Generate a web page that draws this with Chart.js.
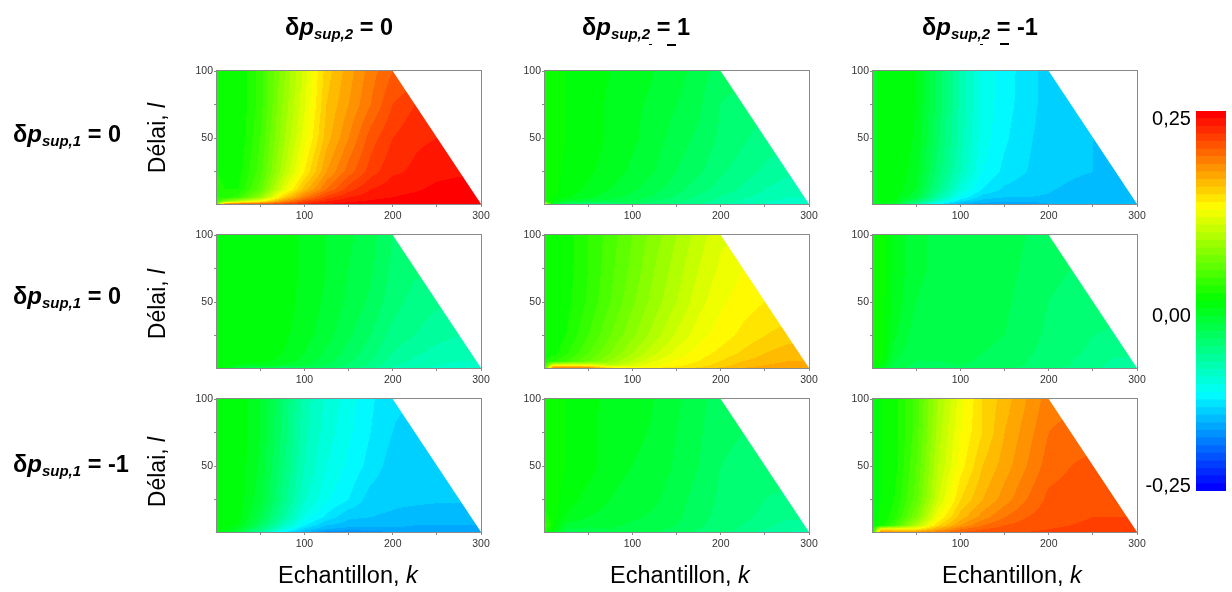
<!DOCTYPE html>
<html>
<head>
<meta charset="utf-8">
<script src="https://cdn.jsdelivr.net/npm/chart.js@4"></script>
<style>
html, body { margin: 0; padding: 0; background: #fff; }
#page { position: relative; width: 1232px; height: 592px; overflow: hidden; font-family: "Liberation Sans", Arial, sans-serif; color: #000; filter: blur(0.4px); }
canvas { position: absolute; }
.head { position: absolute; font-weight: bold; font-size: 23.5px; line-height: 24px; white-space: nowrap; }
.head i { font-size: 24px; }
.head sub { font-size: 15px; font-style: italic; line-height: 0; vertical-align: -4px; }
.xname { position: absolute; font-size: 23.5px; line-height: 28px; white-space: nowrap; top: 561px; }
.yname { position: absolute; font-size: 23px; line-height: 26px; white-space: nowrap; left: 157px; transform: translate(-50%, -50%) rotate(-90deg); }
.cbar { position: absolute; font-size: 20px; line-height: 24px; right: 41px; }
.speck { position: absolute; background: #000; }
</style>
</head>
<body>
<div id="page"></div>
<script>
// sample points of the grids (delay rows go top to bottom like the picture)
const sampleK = [1, 10, 25, 50, 75, 100, 125, 150, 175, 200, 225, 250, 275, 300];
const sampleL = [100, 75, 50, 25, 12, 6, 3, 1];

const maskK = [200, 300, 300];
const maskL = [100, 100, 1];

const xTicks = [50, 100, 150, 200, 250, 300];
const yTicks = [25, 50, 75, 100];

const colorLevels = [-0.25, -0.24, -0.23, -0.22, -0.21, -0.2, -0.19, -0.18, -0.17, -0.16, -0.15, -0.14, -0.13, -0.12, -0.11, -0.1, -0.09, -0.08, -0.07, -0.06, -0.05, -0.04, -0.03, -0.02, -0.01, 0, 0.01, 0.02, 0.03, 0.04, 0.05, 0.06, 0.07, 0.08, 0.09, 0.1, 0.11, 0.12, 0.13, 0.14, 0.15, 0.16, 0.17, 0.18, 0.19, 0.2, 0.21, 0.22, 0.23, 0.24, 0.25];

const grid00 = [
  [.01, .005, 0, .025, .065, .105, .145, .165, .185, .2],
  [.01, .005, 0, .025, .07, .108, .15, .17, .19, .21, .22],
  [.01, .005, 0, .03, .075, .115, .155, .18, .205, .22, .228, .23],
  [.01, .005, .005, .035, .085, .13, .17, .195, .215, .228, .232, .236, .238],
  [.015, .01, .01, .045, .105, .155, .19, .215, .23, .236, .238, .243, .245],
  [.02, .015, .025, .07, .14, .185, .215, .23, .236, .24, .243, .248, .25, .25],
  [.03, .06, .09, .125, .175, .21, .23, .238, .242, .245, .25, .25, .25, .25],
  [.04, .19, .2, .205, .215, .23, .24, .245, .25, .25, .25, .25, .25, .25]
];
const grid01 = [
  [.005, .003, 0, -.005, -.01, -.015, -.02, -.025, -.035, -.045],
  [.005, .003, 0, -.005, -.012, -.018, -.022, -.03, -.038, -.05, -.055],
  [.005, .003, 0, -.005, -.012, -.018, -.025, -.035, -.042, -.052, -.058, -.065],
  [.005, .003, -.002, -.008, -.015, -.022, -.03, -.04, -.048, -.058, -.065, -.072, -.078],
  [.005, .003, -.004, -.012, -.02, -.028, -.036, -.046, -.056, -.064, -.072, -.08, -.085],
  [.005, .002, -.008, -.018, -.026, -.034, -.042, -.052, -.062, -.07, -.078, -.085, -.09, -.09],
  [.01, -.004, -.02, -.03, -.034, -.04, -.05, -.058, -.066, -.074, -.082, -.09, -.092, -.092],
  [.12, -.02, -.05, -.06, -.055, -.05, -.055, -.062, -.07, -.078, -.085, -.09, -.092, -.095]
];
const grid02 = [
  [-.015, -.005, 0, -.01, -.045, -.083, -.113, -.125, -.135, -.145],
  [-.015, -.005, 0, -.01, -.045, -.083, -.113, -.126, -.135, -.145, -.147],
  [-.015, -.005, 0, -.012, -.048, -.085, -.115, -.128, -.138, -.145, -.148, -.15],
  [-.015, -.005, -.002, -.015, -.055, -.09, -.12, -.133, -.14, -.145, -.148, -.15, -.152],
  [-.015, -.005, -.003, -.02, -.065, -.105, -.13, -.142, -.146, -.149, -.152, -.155, -.155],
  [-.015, -.005, -.005, -.03, -.08, -.12, -.145, -.15, -.15, -.151, -.155, -.155, -.155, -.155],
  [-.015, -.006, -.01, -.05, -.1, -.14, -.155, -.158, -.158, -.158, -.158, -.158, -.158, -.158],
  [-.015, -.01, -.02, -.07, -.125, -.16, -.165, -.165, -.165, -.16, -.16, -.16, -.16, -.16]
];
const grid10 = [
  [-.006, -.005, -.003, -.002, -.006, -.012, -.02, -.028, -.036, -.05],
  [-.006, -.005, -.003, -.001, -.006, -.012, -.02, -.03, -.038, -.052, -.058],
  [-.006, -.005, -.002, 0, -.005, -.013, -.022, -.032, -.042, -.056, -.064, -.068],
  [-.006, -.004, -.002, 0, -.007, -.016, -.026, -.038, -.05, -.064, -.07, -.076, -.08],
  [-.005, -.004, -.002, -.002, -.01, -.02, -.032, -.044, -.056, -.07, -.078, -.084, -.088],
  [-.004, -.003, -.004, -.006, -.014, -.024, -.036, -.048, -.06, -.074, -.082, -.088, -.09, -.09],
  [-.004, -.004, -.012, -.015, -.02, -.03, -.04, -.052, -.064, -.078, -.086, -.09, -.092, -.092],
  [-.004, -.006, -.03, -.04, -.045, -.045, -.048, -.056, -.068, -.082, -.088, -.092, -.094, -.095]
];
const grid11 = [
  [0, 0, .005, .02, .035, .05, .065, .08, .095, .108],
  [0, 0, .005, .02, .037, .053, .07, .085, .1, .112, .12],
  [0, 0, .006, .022, .04, .058, .075, .09, .106, .118, .125, .13],
  [0, .002, .01, .03, .05, .068, .085, .102, .116, .125, .133, .14, .145],
  [.005, .005, .018, .04, .06, .08, .098, .114, .125, .133, .142, .15, .155],
  [.01, .02, .03, .05, .072, .092, .11, .122, .13, .14, .15, .155, .16, .16],
  [.02, .12, .125, .12, .09, .105, .118, .127, .135, .145, .155, .16, .165, .165],
  [.03, .19, .19, .185, .14, .125, .13, .135, .142, .152, .16, .165, .168, .17]
];
const grid12 = [
  [0, .005, -.012, -.028, -.032, -.032, -.032, -.036, -.04, -.045],
  [0, .005, -.012, -.028, -.032, -.032, -.032, -.036, -.042, -.048, -.05],
  [0, .005, -.014, -.03, -.034, -.032, -.034, -.038, -.044, -.05, -.052, -.055],
  [0, .005, -.018, -.036, -.036, -.034, -.036, -.04, -.046, -.052, -.056, -.06, -.062],
  [0, .004, -.024, -.04, -.038, -.036, -.04, -.044, -.048, -.054, -.058, -.062, -.068],
  [0, .002, -.03, -.04, -.04, -.038, -.042, -.046, -.05, -.056, -.06, -.064, -.072, -.072],
  [0, -.008, -.034, -.042, -.042, -.04, -.044, -.046, -.05, -.056, -.06, -.065, -.075, -.075],
  [0, -.015, -.036, -.044, -.044, -.042, -.046, -.048, -.052, -.058, -.062, -.066, -.078, -.08]
];
const grid20 = [
  [-.005, -.004, -.002, -.02, -.05, -.085, -.102, -.115, -.128, -.138],
  [-.005, -.004, -.002, -.02, -.052, -.087, -.105, -.118, -.13, -.14, -.146],
  [-.005, -.004, -.003, -.022, -.056, -.09, -.11, -.122, -.134, -.145, -.147, -.147],
  [-.005, -.004, -.004, -.026, -.062, -.098, -.118, -.13, -.145, -.147, -.147, -.148, -.148],
  [-.005, -.004, -.006, -.035, -.075, -.112, -.133, -.148, -.15, -.152, -.156, -.158, -.158],
  [-.005, -.005, -.01, -.045, -.09, -.128, -.15, -.155, -.157, -.158, -.16, -.16, -.16, -.16],
  [-.005, -.006, -.02, -.06, -.105, -.145, -.16, -.165, -.165, -.162, -.162, -.162, -.162, -.162],
  [-.01, -.012, -.03, -.075, -.125, -.155, -.175, -.178, -.175, -.168, -.165, -.165, -.165, -.165]
];
const grid21 = [
  [.004, .003, 0, -.008, -.012, -.016, -.02, -.028, -.036, -.046],
  [.004, .003, 0, -.007, -.014, -.018, -.021, -.03, -.038, -.048, -.05],
  [.005, .004, 0, -.006, -.016, -.02, -.023, -.032, -.04, -.05, -.052, -.056],
  [.006, .004, -.004, -.014, -.02, -.024, -.028, -.036, -.044, -.052, -.056, -.06, -.062],
  [.012, .005, -.012, -.02, -.024, -.028, -.032, -.038, -.046, -.054, -.058, -.062, -.068],
  [.025, .004, -.024, -.028, -.028, -.032, -.036, -.04, -.048, -.056, -.06, -.066, -.074, -.074],
  [.02, -.002, -.03, -.032, -.03, -.034, -.038, -.042, -.05, -.056, -.062, -.07, -.078, -.078],
  [.005, -.005, -.032, -.034, -.032, -.036, -.04, -.044, -.052, -.058, -.064, -.074, -.08, -.082]
];
const grid22 = [
  [-.005, 0, .005, .035, .08, .115, .14, .155, .17, .185],
  [-.005, 0, .005, .035, .085, .12, .14, .16, .175, .19, .195],
  [-.005, 0, .005, .04, .09, .125, .15, .165, .18, .195, .2, .203],
  [-.005, 0, .01, .045, .1, .14, .16, .175, .19, .203, .205, .205, .207],
  [-.003, .002, .015, .06, .12, .155, .175, .19, .2, .206, .208, .21, .21],
  [0, .005, .03, .085, .14, .17, .19, .2, .205, .208, .21, .212, .212, .212],
  [.005, .13, .13, .13, .165, .19, .2, .205, .208, .21, .212, .212, .212, .212],
  [.01, .18, .175, .175, .185, .2, .205, .208, .21, .212, .215, .215, .215, .215]
];

const grids = [[grid00, grid01, grid02], [grid10, grid11, grid12], [grid20, grid21, grid22]];

const plotLeft = [217, 545, 873];
const plotTop = [71, 235, 399];
const plotW = 264, plotH = 133;
const padLeft = 45, padTop = 10, padRight = 20, padBottom = 22;

const page = document.getElementById('page');

// jet style map, red at the top, blue at the bottom
function jet(t) {
    let r = 0, g = 0, b = 0;
    if (t < 0.25) { g = t * 4; b = 1; }
    else if (t < 0.5) { g = 1; b = 1 - (t - 0.25) * 4; }
    else if (t < 0.75) { r = (t - 0.5) * 4; g = 1; }
    else { r = 1; g = 1 - (t - 0.75) * 4; }
    return `rgb(${Math.round(r * 255)},${Math.round(g * 255)},${Math.round(b * 255)})`;
}

const bandCount = colorLevels.length - 1;
const bandColors = colorLevels.slice(0, -1).map((_, i) => jet(i / (bandCount - 1)));

function colorOf(v) {
    const low = colorLevels[0], high = colorLevels[bandCount];
    const i = Math.floor((v - low) / (high - low) * bandCount);
    return bandColors[Math.max(0, Math.min(bandCount - 1, i))];
}

function bracket(list, v) {
    // list may go either way, returns index + fraction
    for (let i = 0; i < list.length - 1; i++) {
        const a = list[i], b = list[i + 1];
        if ((v >= a && v <= b) || (v <= a && v >= b)) return [i, (v - a) / (b - a)];
    }
    return v < list[0] === list[0] < list[1] ? [0, 0] : [list.length - 2, 1];
}

function cellValue(grid, row, col) {
    const r = grid[row];
    return r[Math.min(col, r.length - 1)];
}

function shade(grid, k, l) {
    const [c, fc] = bracket(sampleK, k);
    const [r, fr] = bracket(sampleL, l);
    const top = cellValue(grid, r, c) * (1 - fc) + cellValue(grid, r, c + 1) * fc;
    const bot = cellValue(grid, r + 1, c) * (1 - fc) + cellValue(grid, r + 1, c + 1) * fc;
    return top * (1 - fr) + bot * fr;
}

// filled contour, walks the plot through its scales
const contourPlugin = {
    id: 'contour',
    beforeDatasetsDraw(chart, args, opts) {
        const { ctx, chartArea: a, scales } = chart;
        for (let px = a.left; px < a.right; px++) {
            const k = scales.x.getValueForPixel(px + 0.5);
            let start = a.top, last = null;
            for (let py = a.top; py <= a.bottom; py++) {
                const col = py < a.bottom ? colorOf(shade(opts.grid, k, scales.y.getValueForPixel(py + 0.5))) : null;
                if (col !== last) {
                    if (last) {
                        ctx.fillStyle = last;
                        ctx.fillRect(px, start, 1, py - start);
                    }
                    start = py;
                    last = col;
                }
            }
        }
    },
    afterDatasetsDraw(chart) {
        const { ctx, chartArea: a } = chart;
        ctx.save();
        ctx.strokeStyle = '#8a8a8a';
        ctx.lineWidth = 1;
        ctx.strokeRect(a.left - 0.5, a.top - 0.5, a.right - a.left + 1, a.bottom - a.top + 1);
        ctx.restore();
    }
};

function addCanvas(left, top, w, h) {
    const c = document.createElement('canvas');
    c.width = w;
    c.height = h;
    c.style.left = left + 'px';
    c.style.top = top + 'px';
    page.appendChild(c);
    return c;
}

function drawPanel(row, col) {
    const canvas = addCanvas(plotLeft[col] - padLeft, plotTop[row] - padTop,
        padLeft + plotW + padRight, padTop + plotH + padBottom);
    const tickFont = { family: '"Liberation Sans"', size: 10.5 };
    new Chart(canvas, {
        type: 'scatter',
        plugins: [contourPlugin],
        data: {
            datasets: [{
                data: maskK.map((k, i) => ({ x: k, y: maskL[i] })),
                showLine: true,
                fill: 'shape',
                backgroundColor: '#fff',
                borderWidth: 0,
                pointRadius: 0
            }]
        },
        options: {
            responsive: false,
            animation: false,
            layout: { padding: { top: padTop, right: padRight, left: 0, bottom: 0 } },
            plugins: {
                legend: { display: false },
                tooltip: { enabled: false },
                contour: { grid: grids[row][col] }
            },
            scales: {
                x: {
                    type: 'linear',
                    min: 1,
                    max: 300,
                    afterBuildTicks: s => { s.ticks = xTicks.map(v => ({ value: v })); },
                    afterFit: s => { s.height = padBottom; },
                    border: { color: '#8a8a8a' },
                    grid: { drawOnChartArea: false, tickLength: 3, tickColor: '#8a8a8a' },
                    ticks: {
                        autoSkip: false,
                        maxRotation: 0,
                        padding: 3,
                        color: '#333',
                        font: tickFont,
                        callback: v => v % 100 === 0 ? v : ''
                    }
                },
                y: {
                    type: 'linear',
                    min: 1,
                    max: 100,
                    afterBuildTicks: s => { s.ticks = yTicks.map(v => ({ value: v })); },
                    afterFit: s => { s.width = padLeft; },
                    border: { color: '#8a8a8a' },
                    grid: { drawOnChartArea: false, tickLength: 3, tickColor: '#8a8a8a' },
                    ticks: {
                        autoSkip: false,
                        padding: 1,
                        color: '#333',
                        font: tickFont,
                        callback: v => v % 50 === 0 ? v : ''
                    }
                }
            }
        }
    });
}

for (let r = 0; r < 3; r++) {
    for (let c = 0; c < 3; c++) drawPanel(r, c);
}

// colour bar, one floating bar per level
new Chart(addCanvas(1196, 111, 30, 380), {
    type: 'bar',
    data: {
        labels: [''],
        datasets: bandColors.map((color, i) => ({
            data: [[colorLevels[i], colorLevels[i + 1]]],
            backgroundColor: color,
            barPercentage: 1,
            categoryPercentage: 1,
            grouped: false
        }))
    },
    options: {
        responsive: false,
        animation: false,
        plugins: { legend: { display: false }, tooltip: { enabled: false } },
        scales: {
            x: { display: false },
            y: { display: false, min: -0.25, max: 0.25 }
        }
    }
});

function addText(cls, html, style) {
    const d = document.createElement('div');
    d.className = cls;
    d.innerHTML = html;
    Object.assign(d.style, style);
    page.appendChild(d);
}

const colHeads = [['0', 285], ['1', 582], ['-1', 922]];
colHeads.forEach(([v, x]) => addText('head', `δ<i>p</i><sub>sup,2</sub> = ${v}`, { left: x + 'px', top: '15px' }));

const rowHeads = [['0', 122], ['0', 284], ['-1', 452]];
rowHeads.forEach(([v, y]) => addText('head', `δ<i>p</i><sub>sup,1</sub> = ${v}`, { left: '13px', top: y + 'px' }));

[138, 304, 472].forEach(y => addText('yname', 'Délai, <i>l</i>', { top: y + 'px' }));
[278, 610, 942].forEach(x => addText('xname', 'Echantillon, <i>k</i>', { left: x + 'px' }));

[['0,25', 106], ['0,00', 303], ['-0,25', 473]].forEach(([t, y]) => addText('cbar', t, { top: y + 'px' }));

// stray dashes under the two right hand headings
[[649, 44, 3, 1], [667, 44, 9, 2], [980, 44, 3, 1], [1000, 43, 9, 2]].forEach(([x, y, w, h]) =>
    addText('speck', '', { left: x + 'px', top: y + 'px', width: w + 'px', height: h + 'px' }));
</script>
</body>
</html>
